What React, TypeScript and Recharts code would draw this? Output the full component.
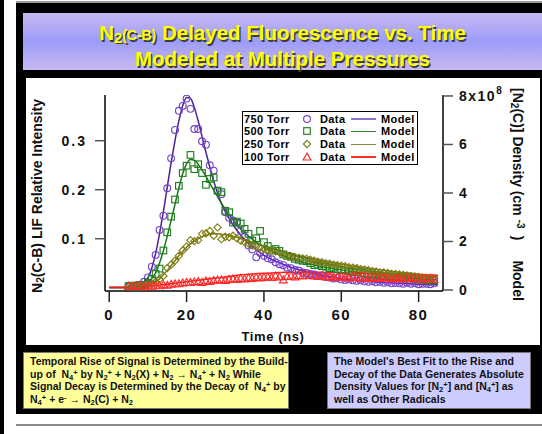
import React from 'react';
import { ComposedChart, Scatter, Line, XAxis, YAxis } from 'recharts';

const FONT = 'Arial, "Liberation Sans", Helvetica, sans-serif';

// measured LIF points, time in ns
const DATA_T = [
  5, 6, 7, 8, 9, 10, 11, 12, 13, 14, 15, 16, 17, 18, 19, 20, 21, 22, 23, 24,
  25, 26, 27, 28, 29, 30, 31, 32, 33, 34, 35, 36, 37, 38, 39, 40, 41, 42, 43, 44,
  45, 46, 47, 48, 49, 50, 51, 52, 53, 54, 55, 56, 57, 58, 59, 60, 61, 62, 63, 64,
  65, 66, 67, 68, 69, 70, 71, 72, 73, 74, 75, 76, 77, 78, 79, 80, 81, 82, 83, 84,
];
const LIF_750 = [
  0.004, 0.003, 0.005, 0.006, 0.012, 0.021, 0.043, 0.067, 0.118, 0.147,
  0.203, 0.264, 0.322, 0.361, 0.371, 0.386, 0.365, 0.324, 0.324, 0.299,
  0.292, 0.25, 0.239, 0.198, 0.191, 0.154, 0.143, 0.137, 0.133, 0.116,
  0.104, 0.086, 0.078, 0.062, 0.071, 0.065, 0.06, 0.058, 0.052, 0.048,
  0.046, 0.041, 0.04, 0.036, 0.035, 0.031, 0.03, 0.028, 0.027, 0.024,
  0.025, 0.022, 0.021, 0.019, 0.02, 0.017, 0.016, 0.017, 0.015, 0.014,
  0.015, 0.013, 0.012, 0.013, 0.011, 0.012, 0.01, 0.011, 0.009, 0.01,
  0.009, 0.008, 0.01, 0.008, 0.009, 0.007, 0.008, 0.008, 0.007, 0.009,
];
const LIF_500 = [
  0.003, 0.004, 0.002, 0.005, 0.006, 0.01, 0.018, 0.028, 0.039, 0.076,
  0.113, 0.145, 0.18, 0.208, 0.234, 0.249, 0.271, 0.242, 0.252, 0.234,
  0.21, 0.222, 0.225, 0.198, 0.195, 0.157, 0.154, 0.133, 0.135, 0.131,
  0.12, 0.11, 0.096, 0.101, 0.116, 0.093, 0.085, 0.076, 0.079, 0.075,
  0.068, 0.065, 0.063, 0.059, 0.057, 0.055, 0.054, 0.05, 0.046, 0.047,
  0.044, 0.043, 0.04, 0.041, 0.038, 0.036, 0.035, 0.034, 0.032, 0.033,
  0.03, 0.029, 0.028, 0.027, 0.026, 0.025, 0.024, 0.023, 0.023, 0.021,
  0.022, 0.02, 0.019, 0.02, 0.018, 0.017, 0.017, 0.016, 0.015, 0.015,
];
const LIF_250 = [
  0.003, 0.004, 0.003, 0.005, 0.004, 0.006, 0.008, 0.012, 0.017, 0.024,
  0.04, 0.047, 0.055, 0.065, 0.076, 0.084, 0.097, 0.095, 0.097, 0.11,
  0.111, 0.116, 0.106, 0.123, 0.099, 0.104, 0.103, 0.106, 0.101, 0.096,
  0.093, 0.09, 0.086, 0.084, 0.082, 0.079, 0.077, 0.076, 0.074, 0.072,
  0.068, 0.065, 0.064, 0.062, 0.061, 0.06, 0.059, 0.057, 0.055, 0.053,
  0.052, 0.05, 0.049, 0.047, 0.046, 0.045, 0.044, 0.042, 0.041, 0.04,
  0.038, 0.037, 0.036, 0.034, 0.033, 0.031, 0.031, 0.03, 0.028, 0.028,
  0.027, 0.026, 0.025, 0.024, 0.023, 0.022, 0.021, 0.02, 0.02, 0.019,
];
const LIF_100 = [
  0.003, 0.002, 0.004, 0.003, 0.002, 0.004, 0.003, 0.005, 0.004, 0.006,
  0.005, 0.007, 0.008, 0.008, 0.01, 0.011, 0.011, 0.012, 0.013, 0.011,
  0.014, 0.013, 0.015, 0.016, 0.016, 0.015, 0.017, 0.018, 0.017, 0.019,
  0.018, 0.02, 0.019, 0.021, 0.02, 0.021, 0.022, 0.021, 0.024, 0.022,
  0.016, 0.023, 0.024, 0.022, 0.025, 0.024, 0.026, 0.025, 0.024, 0.023,
  0.024, 0.022, 0.023, 0.021, 0.022, 0.023, 0.021, 0.02, 0.022, 0.021,
  0.02, 0.022, 0.019, 0.021, 0.02, 0.019, 0.021, 0.02, 0.018, 0.02,
  0.019, 0.018, 0.02, 0.019, 0.018, 0.019, 0.017, 0.018, 0.019, 0.017,
];

// model [N2(C)] density, units of 1e8 cm^-3
const MODEL_T = [
  0, 4, 6, 8, 10, 11, 12, 13, 14, 15, 16, 17, 18, 19, 20, 21, 22, 23, 24, 25,
  26, 27, 28, 29, 30, 32, 34, 36, 38, 40, 43, 46, 50, 55, 60, 65, 70, 75, 80, 85,
];
const MODEL_750 = [
  0.1, 0.1, 0.12, 0.2, 0.5, 0.91, 1.51, 2.32, 3.23, 4.24, 5.25, 6.16, 6.97, 7.61, 7.94, 7.9, 7.53, 6.97, 6.32, 5.68,
  5.07, 4.5, 4.0, 3.57, 3.23, 2.69, 2.26, 1.92, 1.66, 1.43, 1.19, 0.99, 0.79, 0.61, 0.46, 0.38, 0.32, 0.28, 0.24, 0.22,
];
const MODEL_500 = [
  0.1, 0.1, 0.12, 0.16, 0.3, 0.46, 0.71, 1.11, 1.62, 2.22, 2.87, 3.53, 4.2, 4.8, 5.2, 5.38, 5.35, 5.18, 4.95, 4.68,
  4.4, 4.12, 3.85, 3.58, 3.33, 2.89, 2.52, 2.22, 1.98, 1.78, 1.53, 1.35, 1.15, 0.97, 0.83, 0.71, 0.61, 0.52, 0.46, 0.42,
];
const MODEL_250 = [
  0.1, 0.1, 0.12, 0.14, 0.2, 0.26, 0.34, 0.46, 0.63, 0.81, 1.01, 1.21, 1.41, 1.59, 1.76, 1.9, 2.02, 2.12, 2.2, 2.26,
  2.3, 2.32, 2.32, 2.3, 2.28, 2.22, 2.12, 2.02, 1.92, 1.82, 1.68, 1.53, 1.37, 1.21, 1.07, 0.93, 0.83, 0.73, 0.65, 0.58,
];
const MODEL_100 = [
  0.1, 0.1, 0.1, 0.12, 0.14, 0.16, 0.18, 0.2, 0.22, 0.24, 0.26, 0.28, 0.3, 0.32, 0.34, 0.36, 0.38, 0.4, 0.42, 0.44,
  0.46, 0.48, 0.5, 0.52, 0.54, 0.58, 0.63, 0.65, 0.67, 0.69, 0.71, 0.73, 0.73, 0.73, 0.71, 0.69, 0.67, 0.65, 0.63, 0.61,
];

const X_TICKS = [0, 20, 40, 60, 80];
const LEFT_TICKS = [0.1, 0.2, 0.3];
const RIGHT_TICKS = [0, 2, 4, 6, 8];
const PRESSURES = ['750 Torr', '500 Torr', '250 Torr', '100 Torr'];

const SERIES = [
  { name: PRESSURES[0], lif: LIF_750, model: MODEL_750, kind: 'circle', mark: '#7442cc', line: '#4c1f96', key: '#8f70cc' },
  { name: PRESSURES[1], lif: LIF_500, model: MODEL_500, kind: 'square', mark: '#1f7f1f', line: '#17761a', key: '#2f8a2f' },
  { name: PRESSURES[2], lif: LIF_250, model: MODEL_250, kind: 'diamond', mark: '#7f7c12', line: '#76741a', key: '#8a8840' },
  { name: PRESSURES[3], lif: LIF_100, model: MODEL_100, kind: 'triangle', mark: '#ff2a2a', line: '#ff1a1a', key: '#ff3030' },
];

const Marker = ({ cx, cy, kind, color }: any) => {
  if (cx == null || cy == null) return null;
  const common = { fill: 'none', stroke: color, strokeWidth: 1.15 };
  if (kind === 'circle') return <circle cx={cx} cy={cy} r={3.4} {...common} />;
  if (kind === 'square') return <rect x={cx - 3.3} y={cy - 3.3} width={6.6} height={6.6} {...common} />;
  if (kind === 'diamond')
    return <polygon points={`${cx},${cy - 3.6} ${cx + 3.6},${cy} ${cx},${cy + 3.6} ${cx - 3.6},${cy}`} {...common} />;
  return <polygon points={`${cx},${cy - 3.9} ${cx + 3.9},${cy + 3} ${cx - 3.9},${cy + 3}`} {...common} />;
};

const XTick = ({ x, y, payload }: any) => (
  <text x={x} y={y} dy={15} textAnchor="middle" fontSize={15} fontWeight="bold" letterSpacing={1.5} fontFamily={FONT} fill="#111">
    {payload.value}
  </text>
);

const LeftTick = ({ x, y, payload }: any) => (
  <text x={x} y={y} dy={5} textAnchor="end" fontSize={14} fontWeight="bold" letterSpacing={2} fontFamily={FONT} fill="#111">
    {payload.value.toFixed(1)}
  </text>
);

const RightTick = ({ x, y, payload }: any) => (
  <text x={x} y={y} dy={5} textAnchor="start" fontSize={14} fontWeight="bold" letterSpacing={1.5} fontFamily={FONT} fill="#111">
    {payload.value === 8 ? (
      <>
        <tspan>8x10</tspan>
        <tspan dy={-7} fontSize={10}>8</tspan>
      </>
    ) : (
      payload.value
    )}
  </text>
);

const Sub = ({ children }: any) => (
  <span style={{ fontSize: '0.72em', verticalAlign: '-0.2em', lineHeight: 0 }}>{children}</span>
);
const Sup = ({ children }: any) => (
  <span style={{ fontSize: '0.72em', verticalAlign: '0.35em', lineHeight: 0 }}>{children}</span>
);

const Legend = () => (
  <div style={{
    position: 'absolute', left: 242, top: 111, width: 176, height: 54, boxSizing: 'border-box',
    border: '1.5px solid #000', background: '#fff',
  }}>
    {SERIES.map((s, i) => (
      <div key={s.name} style={{
        position: 'absolute', left: 0, top: 0.5 + i * 12.7, height: 12.6, width: 174,
        fontSize: 11, letterSpacing: 0.4, fontWeight: 'bold', lineHeight: '12.6px', whiteSpace: 'nowrap', color: '#000',
      }}>
        <span style={{ position: 'absolute', left: 1 }}>{s.name}</span>
        <svg width={12} height={12} style={{ position: 'absolute', left: 57.5, top: 0.3 }}>
          <Marker cx={6} cy={6} kind={s.kind} color={s.mark} />
        </svg>
        <span style={{ position: 'absolute', left: 77 }}>Data</span>
        <span style={{ position: 'absolute', left: 108, top: 5.8, width: 25, height: 1.5, background: s.key }} />
        <span style={{ position: 'absolute', left: 138 }}>Model</span>
      </div>
    ))}
  </div>
);

const box = (left: number, top: number, w: number, h: number, bg: string): React.CSSProperties => ({
  position: 'absolute', left, top, width: w, height: h, background: bg,
});

export default function App() {
  const noteText: React.CSSProperties = {
    fontFamily: FONT, fontWeight: 'bold', fontSize: 10.5, lineHeight: '12.7px', color: '#111',
    whiteSpace: 'nowrap', boxSizing: 'border-box', border: '1px solid #777',
  };
  const vLabel = (cx: number, cy: number, w: number, deg: number): React.CSSProperties => ({
    position: 'absolute', left: cx - w / 2, top: cy - 9, width: w, height: 18, lineHeight: '18px',
    transform: `rotate(${deg}deg)`, transformOrigin: '50% 50%', textAlign: 'center',
    fontWeight: 'bold', fontSize: 14, whiteSpace: 'nowrap', color: '#111',
  });
  return (
    <div style={{ ...box(0, 0, 542, 434, '#fff'), overflow: 'hidden', fontFamily: FONT }}>
      <div style={box(0, 0, 4, 434, '#000')} />
      <div style={box(16, 1, 526, 2, '#9a9a9a')} />
      <div style={box(16, 3, 526, 411, '#000')} />

      <div style={{ ...box(23, 13, 519, 57, 'linear-gradient(to bottom, #c8b8f2 0%, #9c9cf8 50%, #c8b8f0 100%)') }}>
        <div style={{
          textAlign: 'center', color: '#ffff00', fontWeight: 'bold', fontSize: 20.5, lineHeight: '24px',
          paddingTop: 8, textShadow: '1.5px 1.5px 0 #3c3c3c',
        }}>
          N<Sub>2</Sub><span style={{ fontSize: '0.68em' }}>(C-B)</span> Delayed Fluorescence vs. Time
          <br />
          Modeled at Multiple Pressures
        </div>
      </div>

      <div style={box(26, 78, 514, 267, '#fff')} />
      <div style={{ position: 'absolute', left: 26, top: 78 }}>
        <ComposedChart width={514} height={267} margin={{ top: 17, right: 20, bottom: 24, left: 0 }}>
          <XAxis
            type="number" dataKey="t" domain={[-1.1, 86.3]} ticks={X_TICKS} interval={0} allowDataOverflow
            height={30} tickSize={11} tickMargin={3} tick={<XTick />}
            axisLine={{ stroke: '#000', strokeWidth: 1.5 }} tickLine={{ stroke: '#222', strokeWidth: 1.5 }}
          />
          <YAxis
            yAxisId="left" type="number" domain={[-0.0067, 0.3933]} ticks={LEFT_TICKS} interval={0} allowDataOverflow
            width={79} tickSize={10} tickMargin={8} tick={<LeftTick />}
            axisLine={{ stroke: '#000', strokeWidth: 1.5 }} tickLine={{ stroke: '#555', strokeWidth: 1.5 }}
          />
          <YAxis
            yAxisId="right" orientation="right" type="number" domain={[-0.041, 8.04]} ticks={RIGHT_TICKS} interval={0}
            allowDataOverflow width={77} tickSize={10} tickMargin={6} tick={<RightTick />}
            axisLine={{ stroke: '#000', strokeWidth: 1.5 }} tickLine={{ stroke: '#555', strokeWidth: 1.5 }}
          />
          {SERIES.map((s) => (
            <Scatter
              key={`d-${s.name}`}
              yAxisId="left"
              data={s.lif.map((v, i) => ({ t: DATA_T[i], v }))}
              dataKey="v"
              isAnimationActive={false}
              shape={(p: any) => <Marker cx={p.cx} cy={p.cy} kind={s.kind} color={s.mark} />}
            />
          ))}
          {SERIES.map((s) => (
            <Line
              key={`m-${s.name}`}
              yAxisId="right"
              data={s.model.map((d, i) => ({ t: MODEL_T[i], d }))}
              dataKey="d"
              type="monotone"
              stroke={s.line}
              strokeWidth={1.5}
              dot={false}
              activeDot={false}
              isAnimationActive={false}
            />
          ))}
        </ComposedChart>
      </div>

      <Legend />

      <div style={vLabel(37, 196, 200, -90)}>
        N<Sub>2</Sub>(C-B) LIF Relative Intensity
      </div>
      <div style={vLabel(518, 193, 210, 90)}>
        [N<Sub>2</Sub>(C)] Density (cm<span style={{ display: 'inline-block', width: 4 }} /><Sup>-3</Sup>
        <span style={{ display: 'inline-block', width: 7 }} />)
        <span style={{ display: 'inline-block', width: 20 }} />Model
      </div>
      <div style={{
        position: 'absolute', left: 223, top: 329, width: 100, textAlign: 'center', lineHeight: '16px',
        fontWeight: 'bold', fontSize: 13, letterSpacing: 0.6, whiteSpace: 'nowrap', color: '#111',
      }}>
        Time (ns)
      </div>

      <div style={{ ...box(23, 352, 266, 57, '#ffff99'), ...noteText, padding: '2px 0 0 6px' }}>
        Temporal Rise of Signal is Determined by the Build-<br />
        up of&nbsp; N<Sub>4</Sub><Sup>+</Sup> by N<Sub>2</Sub><Sup>+</Sup> + N<Sub>2</Sub>(X) + N<Sub>2</Sub> → N<Sub>4</Sub><Sup>+</Sup> + N<Sub>2</Sub> While<br />
        Signal Decay is Determined by the Decay of&nbsp; N<Sub>4</Sub><Sup>+</Sup> by<br />
        N<Sub>4</Sub><Sup>+</Sup> + e<Sup>-</Sup> → N<Sub>2</Sub>(C) + N<Sub>2</Sub>
      </div>
      <div style={{ ...box(327, 352, 204, 57, '#ccccff'), ...noteText, padding: '2px 0 0 6px' }}>
        The Model's Best Fit to the Rise and<br />
        Decay of the Data Generates Absolute<br />
        Density Values for [N<Sub>2</Sub><Sup>+</Sup>] and [N<Sub>4</Sub><Sup>+</Sup>] as<br />
        well as Other Radicals
      </div>

      <div style={box(16, 424, 526, 2, '#8a8a8a')} />
    </div>
  );
}
